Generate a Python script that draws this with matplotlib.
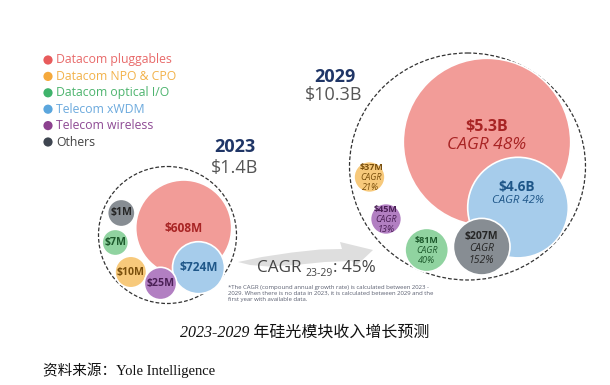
import matplotlib
matplotlib.use("Agg")
import matplotlib.pyplot as plt
from matplotlib.patches import Circle, Ellipse, Polygon

# ---------------- data ----------------
segments = ["Datacom pluggables", "Datacom NPO & CPO", "Datacom optical I/O",
            "Telecom xWDM", "Telecom wireless", "Others"]
rev_2023 = [608, 10, 7, 724, 25, 1]          # $M
rev_2029 = [5300, 37, 81, 4600, 45, 207]     # $M
cagr_2029 = [48, 21, 40, 42, 13, 152]        # %
years = ["2023", "2029"]
totals = ["$1.4B", "$10.3B"]
overall_cagr = 45

# ---------------- styles ----------------
dot_colors = ["#e85b5c", "#f5a93c", "#3fb36b", "#5ba6dd", "#8c418f", "#3e4550"]
legend_text_colors = ["#e86a6a", "#f2b24a", "#4db46e", "#6ba9dd", "#8e4a94", "#444444"]
bubble_colors = ["#f29c98", "#f7c97b", "#90d3a0", "#a6cceb", "#b27fc2", "#878d93"]
label_colors = ["#a82424", "#7a4f0c", "#1d5a2c", "#1e5688", "#4a1f55", "#262626"]
FONT = "Open Sans"

# layout (pixel coordinates): (cx, cy, r) per segment
pos_2023 = [(183.7, 228, 48), (130.8, 272, 15.8), (115.3, 242.5, 13.2),
            (198.5, 267.7, 26), (160.5, 283.5, 16.2), (121.3, 213, 13.7)]
pos_2029 = [(487, 142, 83.7), (369.5, 177, 15.5), (426.7, 250, 21.7),
            (518, 207.6, 50.3), (386, 219, 15.5), (481.7, 246.7, 28.3)]
draw_order = [0, 3, 5, 2, 1, 4]


def fmt(v):
    return f"${v/1000:.1f}B" if v >= 1000 else f"${v}M"


fig = plt.figure(figsize=(6.10, 3.85), dpi=100)
ax = fig.add_axes([0, 0, 1, 1])
ax.set_xlim(0, 610)
ax.set_ylim(385, 0)
ax.axis("off")

# ---------------- legend ----------------
for i, name in enumerate(segments):
    y = 60 + i * 16.4
    ax.add_patch(Circle((48, y), 4.6, color=dot_colors[i], lw=0))
    ax.text(56.5, y, name, color=legend_text_colors[i], fontsize=8.8,
            family=FONT, va="center", ha="left")

# ---------------- dashed container circles ----------------
ax.add_patch(Ellipse((167.5, 235), 138, 137, fill=False, ls=(0, (3, 1.6)),
                     lw=0.9, ec="#333333", zorder=1))
ax.add_patch(Ellipse((467.5, 166.5), 236, 227, fill=False, ls=(0, (3, 1.6)),
                     lw=0.9, ec="#333333", zorder=1))

# ---------------- arrow ----------------
arrow_pts = [(238, 262), (262, 257), (292, 252.5), (320, 249.5), (342, 249),
             (340, 242), (373, 250), (356, 266), (352, 261),
             (325, 262), (295, 265), (268, 266.5), (250, 265)]
ax.add_patch(Polygon(arrow_pts, closed=True, color="#dedede", lw=0, zorder=1))

# ---------------- 2023 bubbles ----------------
for i in draw_order:
    cx, cy, r = pos_2023[i]
    ax.add_patch(Circle((cx, cy), r, fc=bubble_colors[i], ec="white", lw=1.2, zorder=2))
    fs = 8.6 if i in (0, 3) else 7.6
    ax.text(cx, cy, fmt(rev_2023[i]), color=label_colors[i], fontsize=fs,
            family=FONT, weight="bold", ha="center", va="center", zorder=3)

# ---------------- 2029 bubbles ----------------
for i in draw_order:
    cx, cy, r = pos_2029[i]
    ax.add_patch(Circle((cx, cy), r, fc=bubble_colors[i], ec="white", lw=1.2, zorder=2))
    if i == 0:
        ax.text(cx, cy - 15.5, fmt(rev_2029[i]), color=label_colors[i], fontsize=11.5,
                family=FONT, weight="bold", ha="center", va="center", zorder=3)
        ax.text(cx, cy + 3, f"CAGR {cagr_2029[i]}%", color=label_colors[i], fontsize=12.5,
                family=FONT, style="italic", ha="center", va="center", zorder=3)
    elif i == 3:
        ax.text(cx - 1, cy - 21, fmt(rev_2029[i]), color=label_colors[i], fontsize=9.8,
                family=FONT, weight="bold", ha="center", va="center", zorder=3)
        ax.text(cx, cy - 7.5, f"CAGR {cagr_2029[i]}%", color=label_colors[i], fontsize=8.2,
                family=FONT, style="italic", ha="center", va="center", zorder=3)
    else:
        big = i == 5
        fs = 7.5 if big else 6.5
        dy = 12 if big else 10.3
        off = -10.5 if big else -9.8
        sx = 1.5 if i == 1 else 0
        ax.text(cx + sx, cy + off, fmt(rev_2029[i]), color=label_colors[i],
                fontsize=fs, family=FONT, weight="bold", ha="center", va="center", zorder=3)
        ax.text(cx + sx, cy + off + dy, "CAGR", color=label_colors[i],
                fontsize=fs, family=FONT, style="italic", ha="center", va="center", zorder=3)
        ax.text(cx + sx, cy + off + 2 * dy, f"{cagr_2029[i]}%",
                color=label_colors[i], fontsize=fs, family=FONT, style="italic",
                ha="center", va="center", zorder=3)

# ---------------- year / totals ----------------
ax.text(235, 146.5, years[0], color="#1f3566", fontsize=13, weight="bold",
        family=FONT, ha="center", va="center")
ax.text(235, 168.5, totals[0], color="#555555", fontsize=13, family=FONT,
        ha="center", va="center")
ax.text(335, 76.5, years[1], color="#1f3566", fontsize=13, weight="bold",
        family=FONT, ha="center", va="center")
ax.text(334, 95, totals[1], color="#555555", fontsize=13, family=FONT,
        ha="center", va="center")

# ---------------- overall CAGR ----------------
ax.text(257, 268, "CAGR", color="#444444", fontsize=12.3, family=FONT,
        ha="left", va="center", zorder=3)
ax.text(305, 273.5, "23-29", color="#444444", fontsize=7.5, family=FONT,
        ha="left", va="center", zorder=3)
ax.text(333, 268, f": {overall_cagr}%", color="#444444", fontsize=12.3, family=FONT,
        ha="left", va="center", zorder=3)

ax.text(228, 293.5,
        "*The CAGR (compound annual growth rate) is calculated between 2023 -\n"
        "2029. When there is no data in 2023, it is calculated between 2029 and the\n"
        "first year with available data.",
        color="#5a5f70", fontsize=4.3, family=FONT, ha="left", va="center",
        linespacing=1.25)

# ---------------- caption ----------------
cap_fam = ["Liberation Serif", "Noto Sans CJK SC"]
ax.text(305, 333, "2023-2029 年硅光模块收入增长预测", fontsize=11.5, style="italic",
        family=cap_fam, ha="center", va="center", color="#111111")
ax.text(43, 370, "资料来源：Yole Intelligence", fontsize=10.5,
        family=cap_fam, ha="left", va="center", color="#111111")

fig.savefig("out.png", dpi=100)
